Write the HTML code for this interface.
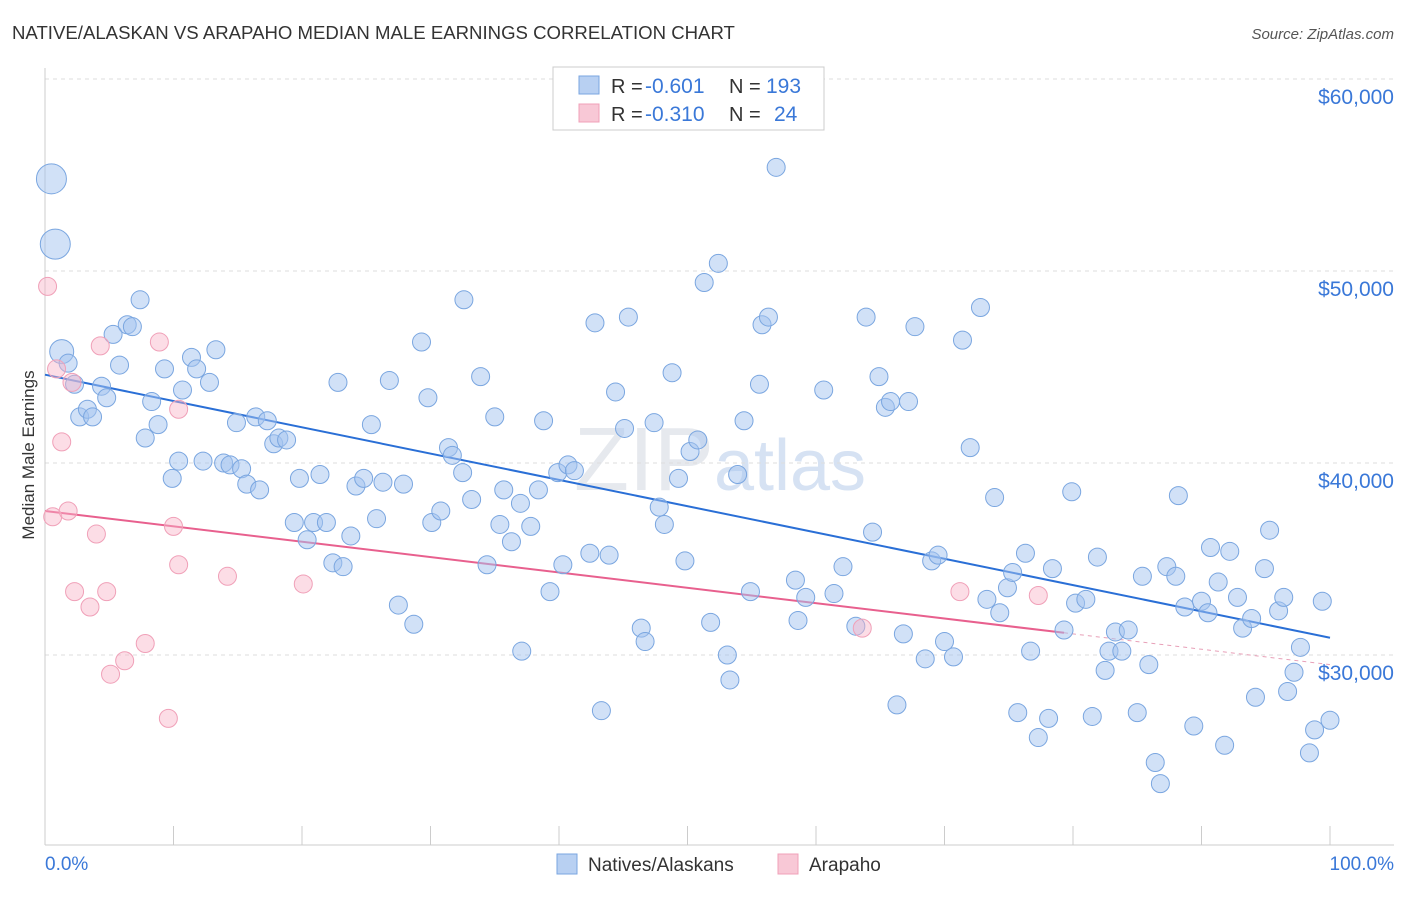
<!DOCTYPE html>
<html><head><meta charset="utf-8"><style>
body{margin:0;background:#fff;font-family:"Liberation Sans",sans-serif}
svg text{font-family:"Liberation Sans",sans-serif}
</style></head><body>
<svg id="chart" width="1406" height="892">
<text x="12" y="39" font-size="18.6" fill="#333">NATIVE/ALASKAN VS ARAPAHO MEDIAN MALE EARNINGS CORRELATION CHART</text>
<text x="1394" y="39" font-size="15" fill="#555" text-anchor="end" font-style="italic">Source: ZipAtlas.com</text>
<text x="720" y="490" font-size="90" fill="#e6e9ee" text-anchor="middle" font-family="Liberation Serif">ZIP<tspan fill="#d6e2f3" font-family="Liberation Sans" font-size="72">atlas</tspan></text>
<g id="grid"></g><g id="axes"></g><g id="trends"></g><g id="pts"></g>
<text transform="translate(34,455) rotate(-90)" font-size="17" fill="#333" text-anchor="middle">Median Male Earnings</text>
<g>
<rect x="553" y="67" width="271" height="63" fill="#fff" stroke="#ccc"/>
<rect x="579" y="76" width="20" height="18" fill="#b8d0f2" stroke="#7aa6e0"/>
<rect x="579" y="104" width="20" height="18" fill="#f8c8d6" stroke="#f0a0b8"/>
<text x="611" y="93" font-size="20" fill="#333">R =</text>
<text x="645" y="93" font-size="21" fill="#3a78d8">-0.601</text>
<text x="729" y="93" font-size="20" fill="#333">N =</text>
<text x="766" y="93" font-size="21" fill="#3a78d8">193</text>
<text x="611" y="121" font-size="20" fill="#333">R =</text>
<text x="645" y="121" font-size="21" fill="#3a78d8">-0.310</text>
<text x="729" y="121" font-size="20" fill="#333">N =</text>
<text x="774" y="121" font-size="21" fill="#3a78d8">24</text>
</g>
<g>
<rect x="557" y="854" width="20" height="20" fill="#b8d0f2" stroke="#7aa6e0"/>
<text x="588" y="871" font-size="19" fill="#333">Natives/Alaskans</text>
<rect x="778" y="854" width="20" height="20" fill="#f8c8d6" stroke="#f0a0b8"/>
<text x="809" y="871" font-size="19" fill="#333">Arapaho</text>
</g>
</svg>
<script>
const yTicks=[30000,40000,50000,60000];
const yTickLabels=["$30,000","$40,000","$50,000","$60,000"];
const xTickLabels=["0.0%","100.0%"];
const blueX=[0.5,0.8,1.3,1.8,2.3,2.7,3.3,3.7,4.4,4.8,5.3,5.8,6.4,6.8,7.4,7.8,8.3,8.8,9.3,9.9,10.4,10.7,11.4,11.8,12.3,12.8,13.3,13.9,14.4,14.9,15.3,15.7,16.4,16.7,17.3,17.8,18.2,18.8,19.4,19.8,20.4,20.9,21.4,21.9,22.4,22.8,23.2,23.8,24.2,24.8,25.4,25.8,26.3,26.8,27.5,27.9,28.7,29.3,29.8,30.1,30.8,31.4,31.7,32.5,32.6,33.2,33.9,34.4,35.0,35.4,35.7,36.3,37.0,37.1,37.8,38.4,38.8,39.3,39.9,40.3,40.7,41.2,42.4,42.8,43.3,43.9,44.4,45.1,45.4,46.4,46.7,47.4,47.8,48.2,48.8,49.3,49.8,50.2,50.8,51.3,51.8,52.4,53.1,53.3,53.9,54.4,54.9,55.6,55.8,56.3,56.9,58.4,58.6,59.2,60.6,61.4,62.1,63.1,63.9,64.4,64.9,65.4,65.8,66.3,66.8,67.2,67.7,68.5,69.0,69.5,70.0,70.7,71.4,72.0,72.8,73.3,73.9,74.3,74.9,75.3,75.7,76.3,76.7,77.3,78.1,78.4,79.3,79.9,80.2,81.0,81.5,81.9,82.5,82.8,83.3,83.8,84.3,85.0,85.4,85.9,86.4,86.8,87.3,88.0,88.2,88.7,89.4,90.0,90.5,90.7,91.3,91.8,92.2,92.8,93.2,93.9,94.2,94.9,95.3,96.0,96.4,96.7,97.2,97.7,98.4,98.8,99.4,100];
const blueY=[54.8,51.4,45.8,45.2,44.1,42.4,42.8,42.4,44.0,43.4,46.7,45.1,47.2,47.1,48.5,41.3,43.2,42.0,44.9,39.2,40.1,43.8,45.5,44.9,40.1,44.2,45.9,40.0,39.9,42.1,39.7,38.9,42.4,38.6,42.2,41.0,41.3,41.2,36.9,39.2,36.0,36.9,39.4,36.9,34.8,44.2,34.6,36.2,38.8,39.2,42.0,37.1,39.0,44.3,32.6,38.9,31.6,46.3,43.4,36.9,37.5,40.8,40.4,39.5,48.5,38.1,44.5,34.7,42.4,36.8,38.6,35.9,37.9,30.2,36.7,38.6,42.2,33.3,39.5,34.7,39.9,39.6,35.3,47.3,27.1,35.2,43.7,41.8,47.6,31.4,30.7,42.1,37.7,36.8,44.7,39.2,34.9,40.6,41.2,49.4,31.7,50.4,30.0,28.7,39.4,42.2,33.3,44.1,47.2,47.6,55.4,33.9,31.8,33.0,43.8,33.2,34.6,31.5,47.6,36.4,44.5,42.9,43.2,27.4,31.1,43.2,47.1,29.8,34.9,35.2,30.7,29.9,46.4,40.8,48.1,32.9,38.2,32.2,33.5,34.3,27.0,35.3,30.2,25.7,26.7,34.5,31.3,38.5,32.7,32.9,26.8,35.1,29.2,30.2,31.2,30.2,31.3,27.0,34.1,29.5,24.4,23.3,34.6,34.1,38.3,32.5,26.3,32.8,32.2,35.6,33.8,25.3,35.4,33.0,31.4,31.9,27.8,34.5,36.5,32.3,33.0,28.1,29.1,30.4,24.9,26.1,32.8,26.6];
const pinkX=[0.2,0.6,0.9,1.3,1.8,2.1,2.3,3.5,4.0,4.3,4.8,5.1,6.2,7.8,8.9,9.6,10.0,10.4,10.4,14.2,20.1,63.6,71.2,77.3];
const pinkY=[49.2,37.2,44.9,41.1,37.5,44.2,33.3,32.5,36.3,46.1,33.3,29.0,29.7,30.6,46.3,26.7,36.7,42.8,34.7,34.1,33.7,31.4,33.3,33.1];
const blueTrend=[44.6,30.9];
const pinkTrend=[37.5,29.5];
const pinkSolidEnd=79.3;
const X=p=>45+p*12.85, Y=v=>655-(v-30)*19.2;
const NS="http://www.w3.org/2000/svg";
function mk(t,a,parent){const e=document.createElementNS(NS,t);for(const k in a)e.setAttribute(k,a[k]);document.getElementById(parent).appendChild(e);return e;}
yTicks.forEach((t,i)=>{
 const l=mk('line',{x1:45,x2:1394,y1:Y(t/1000),y2:Y(t/1000),stroke:'#ddd','stroke-dasharray':'4,4'},'grid');
 
 
 const tx=mk('text',{x:1394,y:Y(t/1000)+25,'font-size':21,fill:'#3a78d8','text-anchor':'end'},'axes');
 tx.textContent=yTickLabels[i];
 
 
});
mk('line',{x1:45,x2:45,y1:68,y2:845,stroke:'#ccc'},'axes');
mk('line',{x1:45,x2:1394,y1:845,y2:845,stroke:'#ccc'},'axes');
for(let i=0;i<=10;i++){mk('line',{x1:X(i*10),x2:X(i*10),y1:826,y2:845,stroke:'#ccc'},'axes');}
const xl0=mk('text',{x:45,y:870,'font-size':19,fill:'#3a78d8'},'axes');xl0.textContent=xTickLabels[0];


const xl1=mk('text',{x:1394,y:870,'font-size':19,fill:'#3a78d8','text-anchor':'end'},'axes');xl1.textContent=xTickLabels[1];


function draw(xs,ys,fill,stroke,name){xs.forEach((x,i)=>{
 let r=9;
 if(name==='natives'&&x<1) r=15;
 else if(name==='natives'&&i===2) r=12;
 const c=mk('circle',{cx:X(x),cy:Y(ys[i]),r:r,fill:fill,stroke:stroke,'stroke-width':1},'pts');
 
 
});}
draw(blueX,blueY,'rgba(164,196,240,0.5)','#7aa6e0','natives');
draw(pinkX,pinkY,'rgba(248,180,200,0.45)','#f0a0b8','arapaho');
const bl=mk('line',{x1:X(0),y1:Y(blueTrend[0]),x2:X(100),y2:Y(blueTrend[1]),stroke:'#2a6fd6','stroke-width':2},'trends');


const pm=pinkTrend[0]+(pinkTrend[1]-pinkTrend[0])*pinkSolidEnd/100;
const pl=mk('line',{x1:X(0),y1:Y(pinkTrend[0]),x2:X(pinkSolidEnd),y2:Y(pm),stroke:'#e8608e','stroke-width':2},'trends');


const pd=mk('line',{x1:X(pinkSolidEnd),y1:Y(pm),x2:X(100),y2:Y(pinkTrend[1]),stroke:'#e8a0b8','stroke-width':1,'stroke-dasharray':'4,4'},'trends');


</script>
</body></html>
